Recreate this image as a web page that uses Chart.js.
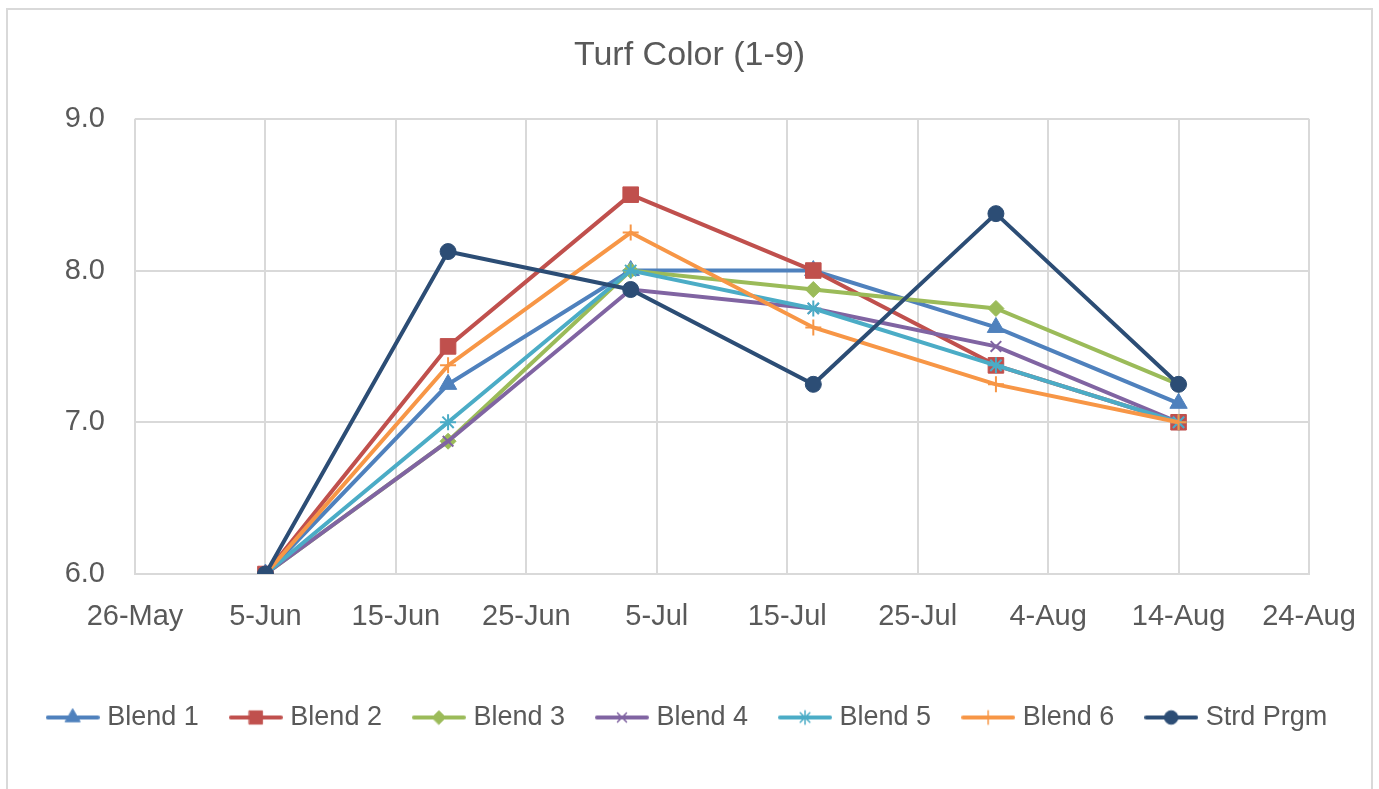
<!DOCTYPE html>
<html>
<head>
<meta charset="utf-8">
<title>Turf Color (1-9)</title>
<script src="https://cdn.jsdelivr.net/npm/chart.js@4.4.1/dist/chart.umd.min.js"></script>
<style>
    html, body { margin: 0; padding: 0; background: #fff; overflow: hidden; }
    #frame { position: absolute; left: 6px; top: 8px; width: 1363px; height: 820px; border: 2px solid #d9d9d9; }
    #wrap { position: absolute; left: 0; top: 0; width: 1379px; height: 789px; }
</style>
</head>
<body>
<div id="frame"></div>
<div id="wrap"><canvas id="turfChart"></canvas></div>
<script>
// Rating dates (days counted from 26-May, the first axis tick)
const sampleDates = ['5-Jun', '19-Jun', '3-Jul', '17-Jul', '31-Jul', '14-Aug'];
const sampleDays = [10, 24, 38, 52, 66, 80];

// Tick labels of the date axis, one every 10 days
const xTickLabels = ['26-May', '5-Jun', '15-Jun', '25-Jun', '5-Jul', '15-Jul', '25-Jul', '4-Aug', '14-Aug', '24-Aug'];

// Turf color ratings (1-9)
const blend1 = [6.0, 7.25, 8.0, 8.0, 7.625, 7.125];
const blend2 = [6.0, 7.5, 8.5, 8.0, 7.375, 7.0];
const blend3 = [6.0, 6.875, 8.0, 7.875, 7.75, 7.25];
const blend4 = [6.0, 6.875, 7.875, 7.75, 7.5, 7.0];
const blend5 = [6.0, 7.0, 8.0, 7.75, 7.375, 7.0];
const blend6 = [6.0, 7.375, 8.25, 7.625, 7.25, 7.0];
const strdPrgm = [6.0, 8.125, 7.875, 7.25, 8.375, 7.25];

const seriesNames = ['Blend 1', 'Blend 2', 'Blend 3', 'Blend 4', 'Blend 5', 'Blend 6', 'Strd Prgm'];
const seriesValues = [blend1, blend2, blend3, blend4, blend5, blend6, strdPrgm];
const seriesColors = ['#4f81bd', '#c0504d', '#9bbb59', '#8064a2', '#4bacc6', '#f79646', '#2c4d75'];
const seriesMarkers = ['triangle', 'rect', 'rectRot', 'crossRot', 'star', 'cross', 'circle'];
const markerSizes = [10, 11, 8, 7.5, 8, 8, 8];

const FONT = "'Liberation Sans', Arial, sans-serif";
const TEXT_COLOR = '#595959';
const GRID_COLOR = '#d9d9d9';

function isStroke(style) {
    return style === 'cross' || style === 'crossRot' || style === 'star';
}

// small canvas with a line and its marker, used as legend symbol
function makeLegendIcon(color, style, radius) {
    const c = document.createElement('canvas');
    c.width = 54;
    c.height = 24;
    const g = c.getContext('2d');
    g.strokeStyle = color;
    g.lineWidth = 4;
    g.lineCap = 'round';
    g.beginPath();
    g.moveTo(2, 12);
    g.lineTo(52, 12);
    g.stroke();
    g.fillStyle = color;
    g.lineWidth = isStroke(style) ? 1.5 : 1;
    Chart.helpers.drawPoint(g, { pointStyle: style, radius: radius, rotation: 0, borderWidth: g.lineWidth }, 27, 12);
    return c;
}

function buildDatasets() {
    return seriesNames.map(function(name, i) {
        const marker = seriesMarkers[i];
        return {
            label: name,
            data: sampleDays.map(function(d, j) { return { x: d, y: seriesValues[i][j] }; }),
            borderColor: seriesColors[i],
            backgroundColor: seriesColors[i],
            borderWidth: 4,
            pointStyle: marker,
            pointRadius: markerSizes[i],
            pointHoverRadius: markerSizes[i],
            pointBorderWidth: isStroke(marker) ? 2 : 1,
            pointBackgroundColor: seriesColors[i],
            pointBorderColor: seriesColors[i],
            tension: 0,
            // later series drawn on top, like the original
            order: seriesNames.length - i
        };
    });
}

const legendIcons = seriesNames.map(function(n, i) {
    return makeLegendIcon(seriesColors[i], seriesMarkers[i], markerSizes[i] * 0.85);
});

new Chart(document.getElementById('turfChart'), {
    type: 'line',
    data: { datasets: buildDatasets() },
    options: {
        responsive: true,
        maintainAspectRatio: false,
        animation: false,
        layout: { padding: { left: 0, right: 0, top: 0, bottom: 48 } },
        plugins: {
            title: {
                display: true,
                text: 'Turf Color (1-9)',
                color: TEXT_COLOR,
                font: { family: FONT, size: 34, weight: 'normal' },
                padding: { top: 35, bottom: 43 }
            },
            legend: {
                display: true,
                position: 'bottom',
                sort: function(a, b) { return a.datasetIndex - b.datasetIndex; },
                labels: {
                    color: TEXT_COLOR,
                    font: { family: FONT, size: 27 },
                    usePointStyle: true,
                    pointStyleWidth: 42,
                    padding: 36,
                    generateLabels: function(chart) {
                        return chart.data.datasets.map(function(ds, i) {
                            return {
                                text: ds.label,
                                datasetIndex: i,
                                pointStyle: legendIcons[i],
                                fillStyle: ds.borderColor,
                                strokeStyle: ds.borderColor,
                                fontColor: TEXT_COLOR,
                                lineWidth: 0,
                                hidden: false
                            };
                        });
                    }
                }
            },
            tooltip: { enabled: false }
        },
        scales: {
            x: {
                type: 'linear',
                min: 0,
                max: 90,
                afterBuildTicks: function(scale) {
                    scale.ticks = xTickLabels.map(function(l, i) { return { value: i * 10 }; });
                },
                afterFit: function(scale) {
                    scale.height = 94;
                    scale.paddingRight = 70;
                },
                ticks: {
                    color: TEXT_COLOR,
                    font: { family: FONT, size: 29 },
                    padding: 26,
                    maxRotation: 0,
                    autoSkip: false,
                    callback: function(value) { return xTickLabels[Math.round(value / 10)]; }
                },
                grid: { color: GRID_COLOR, lineWidth: 2, drawTicks: false },
                border: { color: GRID_COLOR, width: 2 }
            },
            y: {
                min: 6,
                max: 9,
                afterFit: function(scale) { scale.width = 135; },
                ticks: {
                    stepSize: 1,
                    color: TEXT_COLOR,
                    font: { family: FONT, size: 29 },
                    padding: 30,
                    callback: function(value) { return value.toFixed(1); }
                },
                grid: { color: GRID_COLOR, lineWidth: 2, drawTicks: false },
                border: { display: false }
            }
        }
    }
});
</script>
</body>
</html>
